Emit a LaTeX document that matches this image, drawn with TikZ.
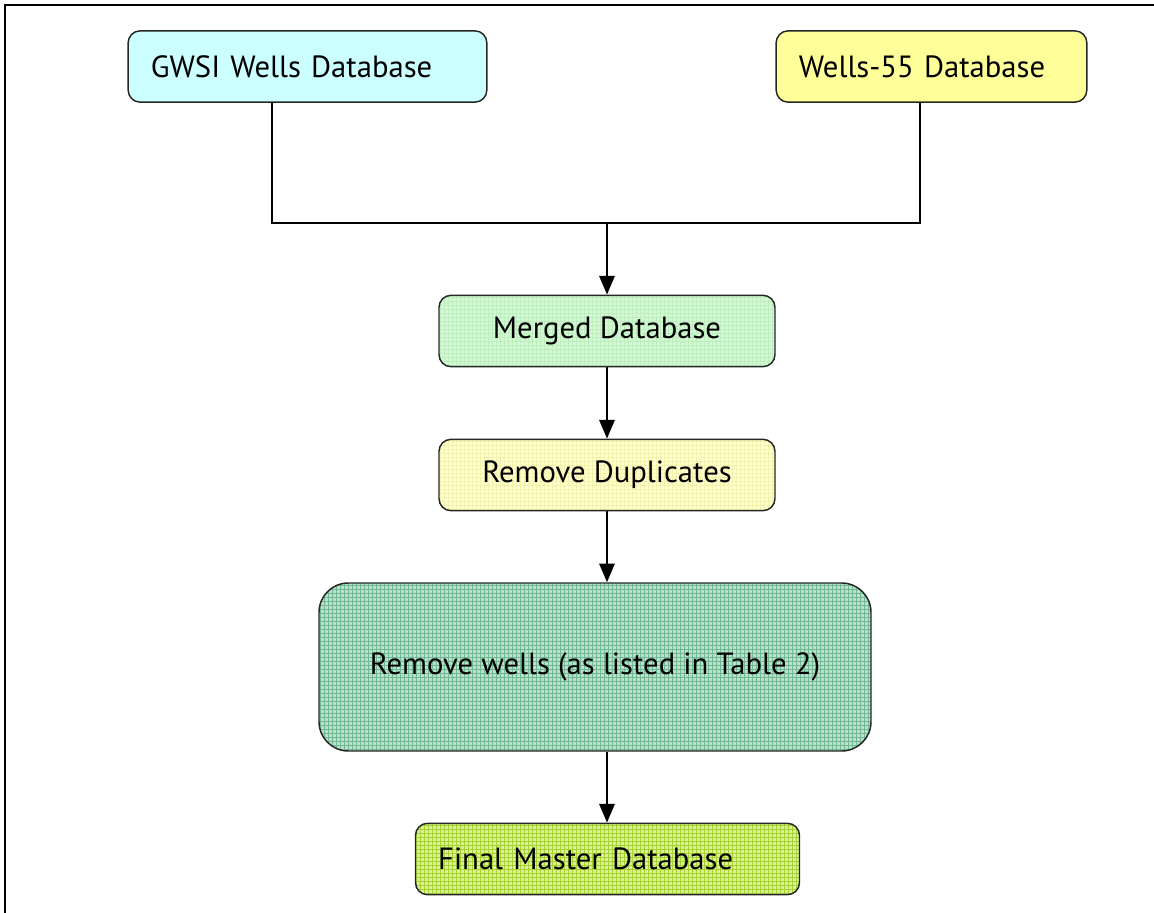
\documentclass[tikz,border=0pt]{standalone}
\usepackage{fontspec}
\setmainfont{PT Sans}
\usetikzlibrary{arrows.meta,patterns}

\definecolor{gwsiFill}{HTML}{CCFFFF}
\definecolor{wellsFill}{HTML}{FFFF99}
\definecolor{mergedFill}{HTML}{D6F7D6}
\definecolor{mergedGrid}{HTML}{BDEEBD}
\definecolor{dupFill}{HTML}{FFFFD2}
\definecolor{dupGrid}{HTML}{F2F2AC}
\definecolor{removeFill}{HTML}{BCE0CC}
\definecolor{removeGrid}{HTML}{6FB892}
\definecolor{finalFill}{HTML}{DCEFA0}
\definecolor{finalGrid}{HTML}{A6D22E}

\tikzset{
  dbbox/.style={draw=black!85, line width=1.1pt, rounded corners=9pt,
    minimum height=53.5pt, font=\fontsize{23}{28}\selectfont},
  leftbox/.style={dbbox, align=left, inner xsep=17pt},
  gridfill/.style={preaction={fill=#1Fill}, preaction={pattern=grid, pattern color=#1Grid}},
  link/.style={line width=1.5pt},
  flow/.style={link, -{Triangle[width=11.5pt,length=14pt]}},
}

\begin{document}
\begin{tikzpicture}[x=0.75pt, y=-0.75pt]
  \useasboundingbox (0,0) rectangle (1154,913);
  \clip (0,0) rectangle (1154,913);

  % page frame
  \draw[line width=2.2pt] (5,930) -- (5,5) -- (1170,5);

  % sources
  \node[leftbox, fill=gwsiFill, text width=235pt] (gwsi) at (307.5,66.5) {GWSI Wells Database};
  \node[leftbox, fill=wellsFill, text width=199pt] (w55) at (931.5,66.5) {Wells-55 Database};

  % processing steps
  \node[dbbox, gridfill=merged, minimum width=252pt] (merged) at (607,331) {Merged Database};
  \node[dbbox, gridfill=dup, minimum width=252pt] (dup) at (607,475) {Remove Duplicates};
  \node[dbbox, gridfill=remove, rounded corners=22pt, minimum width=414pt, minimum height=126pt] (remove) at (595,667) {Remove wells (as listed in Table 2)};
  \node[leftbox, gridfill=final, text width=254pt] (final) at (607.5,859) {Final Master Database};

  % junction of the two sources
  \coordinate (jl) at (272,223);
  \coordinate (jr) at (920,223);
  \coordinate (jm) at (607,223);

  \draw[link] (gwsi.south -| jl) -- (jl) -- (jr) -- (w55.south -| jr);
  \draw[flow] (jm) -- (merged.north);
  \draw[flow] (merged) -- (dup);
  \draw[flow] (dup.south) -- (dup.south |- remove.north);
  \draw[flow] (dup.south |- remove.south) -- (final.north -| dup.south);
\end{tikzpicture}
\end{document}
